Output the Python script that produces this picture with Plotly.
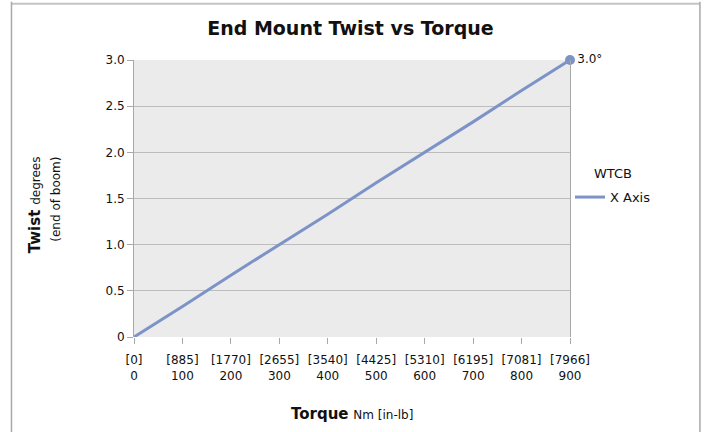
import plotly.graph_objects as go

torque_nm = [0, 100, 200, 300, 400, 500, 600, 700, 800, 900]
torque_inlb = ["0", "885", "1770", "2655", "3540", "4425", "5310", "6195", "7081", "7966"]
twist_deg = [0.0, 0.33, 0.67, 1.0, 1.33, 1.67, 2.0, 2.33, 2.67, 3.0]
y_ticks = [0, 0.5, 1.0, 1.5, 2.0, 2.5, 3.0]
y_tick_text = ["0", "0.5", "1.0", "1.5", "2.0", "2.5", "3.0"]

FONT = "DejaVu Sans"
LINE = "#7d93c8"
TXT = "#111111"

fig = go.Figure()
fig.add_trace(go.Scatter(
    x=torque_nm, y=twist_deg, mode="lines", name="X Axis",
    line=dict(color=LINE, width=3), showlegend=True,
))
fig.add_trace(go.Scatter(
    x=[torque_nm[-1]], y=[twist_deg[-1]], mode="markers+text",
    marker=dict(color=LINE, size=10),
    text=[f"{twist_deg[-1]:.1f}°"], textposition="middle right",
    textfont=dict(family=FONT, size=12, color=TXT),
    showlegend=False, cliponaxis=False,
))

fig.update_layout(
    width=708, height=432,
    margin=dict(l=134, r=138, t=60, b=95),
    paper_bgcolor="white", plot_bgcolor="#ebebeb",
    font=dict(family=FONT, size=12, color=TXT),
    title=dict(text="<b>End Mount Twist vs Torque</b>", x=0.495, xanchor="center",
               y=0.935, yanchor="middle", font=dict(size=19, family=FONT, color=TXT)),
    legend=dict(x=1.0, y=0.505, xanchor="left", yanchor="middle",
                font=dict(size=13, family=FONT), itemwidth=30, bgcolor="rgba(0,0,0,0)"),
    xaxis=dict(range=[0, 900], tickvals=torque_nm,
               ticktext=[f"[{b}]<br>{a}" for a, b in zip(torque_nm, torque_inlb)],
               showgrid=False, zeroline=False, showline=False,
               ticks="outside", ticklen=6, tickcolor="#a8a8a8",
               tickfont=dict(size=12, family=FONT), ticklabelstandoff=6),
    yaxis=dict(range=[0, 3.0], tickvals=y_ticks, ticktext=y_tick_text,
               showgrid=True, gridcolor="#bdbdbd", gridwidth=1, zeroline=False,
               showline=True, linecolor="#a8a8a8", mirror=True,
               ticks="outside", ticklen=6, tickcolor="#a8a8a8",
               tickfont=dict(size=12, family=FONT)),
    annotations=[
        dict(text="<b>Torque</b> <span style='font-size:12px'>Nm [in-lb]</span>",
             xref="paper", yref="paper", x=0.5, y=-0.277, xanchor="center", yanchor="middle",
             showarrow=False, font=dict(size=15, family=FONT)),
        dict(text="<b>Twist</b> <span style='font-size:12px'>degrees</span><br><span style='font-size:12px'>(end of boom)</span>",
             xref="paper", yref="paper", x=-0.206, y=0.476, xanchor="center", yanchor="middle",
             textangle=-90, align="right", showarrow=False, font=dict(size=15, family=FONT)),
        dict(text="WTCB", xref="paper", yref="paper", x=1.05, y=0.592,
             xanchor="left", yanchor="middle", showarrow=False,
             font=dict(size=13, family=FONT)),
    ],
    shapes=[
        dict(type="line", xref="paper", yref="paper", x0=-0.281, x1=1.298, y0=1.203, y1=1.203,
             line=dict(color="#c4c4c4", width=2)),
        dict(type="line", xref="paper", yref="paper", x0=-0.281, x1=-0.281, y0=1.21, y1=-0.6,
             line=dict(color="#a8a8a8", width=1.5)),
        dict(type="line", xref="paper", yref="paper", x0=1.298, x1=1.298, y0=1.21, y1=-0.6,
             line=dict(color="#a8a8a8", width=1.5)),
    ],
)

fig.write_html("out.html", config={"displayModeBar": False},
               post_script="document.body.style.margin='0';document.body.style.padding='0';")
